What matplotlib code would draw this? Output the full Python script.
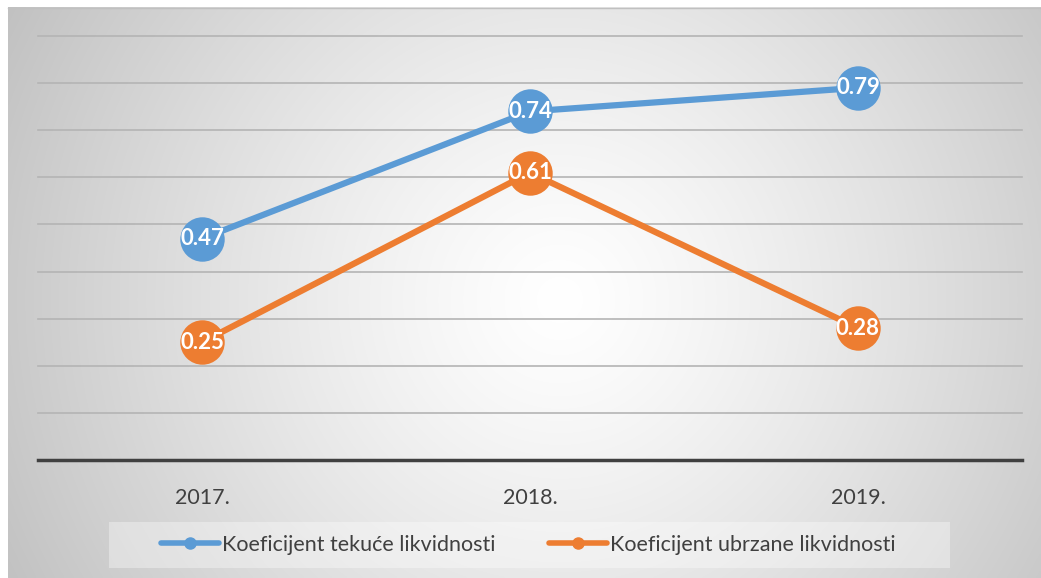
import numpy as np
import matplotlib
matplotlib.use("Agg")
import matplotlib.pyplot as plt
from matplotlib.patches import Rectangle
from matplotlib.lines import Line2D

years = ["2017.", "2018.", "2019."]
tekuce = [0.47, 0.74, 0.79]
ubrzane = [0.25, 0.61, 0.28]
series_names = ["Koeficijent tekuće likvidnosti", "Koeficijent ubrzane likvidnosti"]
colors = ["#5B9BD5", "#ED7D31"]

W, H = 1041, 578
fig = plt.figure(figsize=(W / 100, H / 100), dpi=100)
fig.patch.set_facecolor("white")

# radial gradient background for chart area
bg = fig.add_axes([0, 0, 1, 1], zorder=0)
bg.set_xlim(0, W)
bg.set_ylim(H, 0)
bg.axis("off")
x0, x1, y0, y1 = 8, 1041, 7, 578
xx, yy = np.meshgrid(np.linspace(x0, x1, 400), np.linspace(y0, y1, 240))
cx, cy = 560, 300
r = np.sqrt((xx - cx) ** 2 + (yy - cy) ** 2) / 620.0
r = np.clip(r, 0, 1) ** 1.25
val = 1.0 - r * (1.0 - 0.76)
img = np.dstack([val, val, val])
bg.imshow(img, extent=[x0, x1, y1, y0], aspect="auto", interpolation="bilinear")
bg.plot([x0, x1], [y0 + 0.5, y0 + 0.5], color="#c0c0c0", lw=1)

# legend box
bg.add_patch(Rectangle((109, 522), 841, 46, facecolor="white", alpha=0.35, edgecolor="none"))

ax = fig.add_axes([38 / W, 1 - 460 / H, (1022 - 38) / W, (460 - 36) / H], zorder=1)
ax.patch.set_alpha(0)
x = np.arange(len(years))
ax.set_xlim(-0.5, 2.5)
ax.set_ylim(0, 0.9)
for s in ["top", "left", "right"]:
    ax.spines[s].set_visible(False)
ax.spines["bottom"].set_color("#404040")
ax.spines["bottom"].set_linewidth(2.5)
ax.set_yticks([])
for g in np.arange(1, 10) / 10:
    ax.axhline(g, color="#b4b4b4", lw=1.2, zorder=1, clip_on=False)
ax.set_xticks(x)
ax.set_xticklabels(years, fontsize=15.5, color="#404040", family="Lato")
ax.tick_params(axis="x", length=0, pad=20)

for vals, c in zip([tekuce, ubrzane], colors):
    ax.plot(x, vals, color=c, lw=4.5, marker="o", markersize=32, markeredgewidth=0,
            zorder=3, solid_capstyle="round", clip_on=False)
    for xi, v in zip(x, vals):
        ax.text(xi, v, f"{v:.2f}", color="white", fontsize=16, fontweight="bold",
                family="Lato", ha="center", va="center", zorder=4)

handles = [Line2D([], [], color=c, lw=4, marker="o", markersize=8, solid_capstyle="round") for c in colors]
leg = fig.legend(handles, series_names, loc="center left", bbox_to_anchor=(161 / W, 1 - 545 / H),
                 ncol=2, frameon=False, handlelength=2.7, handletextpad=0.15, columnspacing=2.45,
                 borderpad=0, borderaxespad=0,
                 prop={"family": "Lato", "size": 15.5})
for t in leg.get_texts():
    t.set_color("#404040")

fig.savefig("out.png", dpi=100, facecolor="white")
